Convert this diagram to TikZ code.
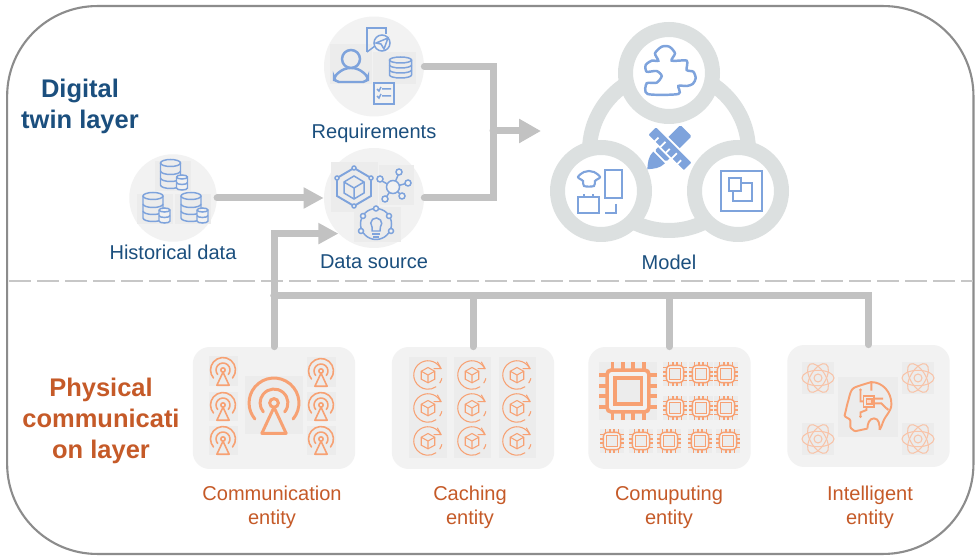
\documentclass[tikz,border=0pt]{standalone}
\usepackage{fontspec}
\setmainfont{Liberation Sans}
\usetikzlibrary{arrows.meta, positioning}
\definecolor{twinblue}{HTML}{1B4F7E}
\definecolor{physorange}{HTML}{C55A28}
\definecolor{iconblue}{HTML}{7EA3DC}
\definecolor{iconorange}{HTML}{F7A173}
\definecolor{paleorange}{HTML}{F8C4A9}
\definecolor{flowgray}{HTML}{C2C2C2}
\definecolor{ringgray}{HTML}{DCE0E0}
\definecolor{softgray}{HTML}{F2F2F2}
\definecolor{iconback}{HTML}{ECECEC}
\tikzset{
    x=0.02cm, y=0.02cm,
    softcircle/.style={circle, fill=softgray, inner sep=0pt},
    ringcircle/.style={circle, draw=ringgray, line width=0.3cm, fill=white, inner sep=0pt, minimum size=1.74cm},
    panel/.style={rectangle, rounded corners=0.34cm, fill=softgray, inner sep=0pt, minimum width=3.25cm, minimum height=2.44cm},
    twinlabel/.style={text=twinblue, font=\fontsize{11.4}{13.6}\selectfont},
    physlabel/.style={text=physorange, align=center, font=\fontsize{11.4}{13.6}\selectfont},
    layerlabel/.style={align=center, font=\bfseries\fontsize{14.5}{17.6}\selectfont},
    flow/.style={draw=flowgray, line width=0.14cm, line cap=round},
    flowarrow/.style={flow, -{Triangle[length=0.4cm, width=0.4cm]}},
    blueline/.style={draw=iconblue, line width=0.85pt},
    % orange icons, drawn in a box from -1 to 1
    tower/.pic={
        \fill[iconback] (-1,-1) rectangle (1,1);
        \draw[iconorange] (0,0.07) circle (0.15);
        \draw[iconorange, line join=round] (0,-0.08) -- (-0.42,-0.98) -- (0.42,-0.98) -- cycle;
        \draw[iconorange, line cap=round] (-40:0.48) ++(0,0.07) arc[start angle=-40, end angle=220, radius=0.48];
        \draw[iconorange, line cap=round] (-40:0.86) ++(0,0.07) arc[start angle=-40, end angle=220, radius=0.86];
    },
    cuberound/.pic={
        \draw[iconorange] (0,0.5) -- (0.45,0.25) -- (0.45,-0.28) -- (0,-0.52) -- (-0.45,-0.28) -- (-0.45,0.25) -- cycle;
        \draw[iconorange] (-0.45,0.25) -- (0,0) -- (0.45,0.25) (0,0) -- (0,-0.52);
        \draw[iconorange] (25:0.95) arc[start angle=25, end angle=305, radius=0.95];
        \draw[iconorange, line join=round] (0.62,0.88) -- (0.88,0.42) -- (0.38,0.42);
        \draw[iconorange, dashed] (-35:0.95) arc[start angle=-35, end angle=-8, radius=0.95];
    },
    chip/.pic={
        \fill[iconback] (-1,-1) rectangle (1,1);
        \foreach \pin in {-0.54,-0.18,0.18,0.54} {
            \draw[iconorange] (\pin,-1) -- (\pin,1);
            \draw[iconorange] (-1,\pin) -- (1,\pin);
        }
        \draw[iconorange, fill=softgray, rounded corners=0.08cm] (-0.72,-0.72) rectangle (0.72,0.72);
        \draw[iconorange, fill=iconback] (-0.46,-0.46) rectangle (0.46,0.46);
    },
    atom/.pic={
        \fill[iconback] (-1,-1) rectangle (1,1);
        \draw[paleorange] (0,0) ellipse (1 and 0.48);
        \draw[paleorange, rotate=60] (0,0) ellipse (1 and 0.48);
        \draw[paleorange, rotate=120] (0,0) ellipse (1 and 0.48);
        \draw[paleorange] (0,0) circle (0.25);
    },
    brainhead/.pic={
        \fill[iconback] (-1,-1) rectangle (1,1);
        \draw[iconorange, rounded corners=0.02cm] plot[smooth, tension=0.4] coordinates {(0.11,0.83) (-0.5,0.61) (-0.67,0.17) (-0.78,-0.31)} -- (-0.59,-0.42) -- (-0.59,-0.69) -- (-0.44,-0.81) -- (-0.02,-0.72);
        \draw[iconorange] (0.39,-0.76) to[out=60, in=250] (0.5,-0.5) to[out=70, in=270] (0.78,0.1) to[out=90, in=0] (0.11,0.83) -- (0.11,0.55);
        \draw[iconorange] (-0.02,-0.72) to[out=90, in=180] (0.2,-0.38) to[out=0, in=90] (0.39,-0.76);
        \draw[iconorange, fill=iconback] (-0.15,0.01) rectangle (0.21,0.37);
        \draw[iconorange, fill=iconorange!40] (-0.05,0.1) rectangle (0.12,0.28);
        \draw[iconorange] (0.21,0.28) -- (0.5,0.28) (0.21,0.12) -- (0.45,0.12) -- (0.62,-0.05) (-0.15,0.19) -- (-0.25,0.19) -- (-0.25,0.55) (-0.05,0.01) -- (-0.05,-0.1) -- (-0.25,-0.18) -- (-0.25,-0.3);
        \fill[iconorange] (0.65,-0.07) circle (0.05) (-0.25,0.57) circle (0.05) (-0.25,-0.32) circle (0.05);
    },
    % blue icons, drawn directly in pixels
    dbgroup/.pic={
        \fill[iconback] (-16,-15) rectangle (20,15);
        \draw[blueline] (0,13) ellipse (10 and 3.5);
        \draw[blueline] (-10,13) -- (-10,-9) arc[start angle=180, end angle=360, x radius=10, y radius=3.5] -- (10,13);
        \draw[blueline] (-10,5) arc[start angle=180, end angle=360, x radius=10, y radius=3.5] (-10,-2) arc[start angle=180, end angle=360, x radius=10, y radius=3.5];
        \draw[blueline, fill=softgray] (6,-1) -- (6,-12) arc[start angle=180, end angle=360, x radius=5.5, y radius=2] -- (17,-1) arc[start angle=0, end angle=180, x radius=5.5, y radius=2];
        \draw[blueline] (6,-1) arc[start angle=180, end angle=360, x radius=5.5, y radius=2] (6,-6.5) arc[start angle=180, end angle=360, x radius=5.5, y radius=2];
    },
    diskstack/.pic={
        \draw[blueline] (0,8) ellipse (11 and 3);
        \draw[blueline] (-11,8) -- (-11,-7) arc[start angle=180, end angle=360, x radius=11, y radius=3] -- (11,8);
        \draw[blueline] (-11,3) arc[start angle=180, end angle=360, x radius=11, y radius=3] (-11,-2) arc[start angle=180, end angle=360, x radius=11, y radius=3];
    },
}
\begin{document}
\begin{tikzpicture}
    \useasboundingbox (0,0) rectangle (980,-560);
    \fill[white] (0,0) rectangle (980,-560);
    % Outer frame and layer border
    \node[draw=black!45, line width=1.2pt, rounded corners=1.8cm, inner sep=0pt, minimum width=19.33cm, minimum height=10.96cm] (frame) at (490.3,-280) {};
    \node[inner sep=0pt] (border-left) at (8,-281) {};
    \node[inner sep=0pt] (border-right) at (974,-281) {};
    \draw[draw=black!22, line width=0.7pt, dash pattern=on 0.44cm off 0.12cm] (border-left) -- (border-right);
    % Define nodes for the digital twin layer
    \node[softcircle, minimum size=2cm] (requirements) at (374,-66.5) {};
    \node[softcircle, minimum size=2cm] (datasource) at (374,-198) {};
    \node[softcircle, minimum size=1.75cm] (history) at (173,-198) {};
    \coordinate (merge) at (493,-131);
    \coordinate (model-in) at (541,-131);
    % Define nodes for the physical layer
    \node[panel] (comm) at (274,-408) {};
    \node[panel] (cache) at (473,-408) {};
    \node[panel] (compute) at (669.5,-408) {};
    \node[panel] (intel) at (868.5,-406) {};
    \coordinate (bus) at (274,-296);
    % Connectors
    \draw[flowarrow] (history) -- (datasource);
    \draw[flowarrow] (comm.north) |- (datasource.225);
    \draw[flow] (requirements.east) -| (merge);
    \draw[flow] (datasource.east) -| (merge);
    \draw[flowarrow, -{Triangle[length=0.44cm, width=0.46cm]}] (merge) -- (model-in);
    \draw[flow] (intel.north) |- (bus);
    \draw[flow] (cache.north) |- (bus);
    \draw[flow] (compute.north) |- (bus);
    % Model rings
    \node[circle, draw=ringgray, line width=0.3cm, inner sep=0pt, minimum size=3.18cm] (model-ring) at (669,-151) {};
    \node[ringcircle] (model-top) at (669,-73) {};
    \node[ringcircle] (model-left) at (601,-191) {};
    \node[ringcircle] (model-right) at (738,-191) {};
    % Labels
    \node[twinlabel] (requirements-label) at (374,-133) {Requirements};
    \node[twinlabel] (datasource-label) at (374,-262) {Data source};
    \node[twinlabel] (history-label) at (173,-252) {Historical data};
    \node[twinlabel] (model-label) at (669,-262) {Model};
    \node[layerlabel, text=twinblue] (twin-label) at (80,-106) {Digital\\twin layer};
    \node[layerlabel, text=physorange] (phys-label) at (101,-421) {Physical\\communicati\\on layer};
    \node[physlabel] (comm-label) at (272,-507) {Communication\\entity};
    \node[physlabel] (cache-label) at (470,-507) {Caching\\entity};
    \node[physlabel] (compute-label) at (669,-507) {Comuputing\\entity};
    \node[physlabel] (intel-label) at (870,-507) {Intelligent\\entity};
    % Icons of history
    \pic at (170.5,-176) {dbgroup};
    \pic at (153,-209) {dbgroup};
    \pic at (191,-209) {dbgroup};
    % Icons of requirements
    \fill[iconback] (330,-44) rectangle (372,-84);
    \fill[iconback] (373,-52) rectangle (416,-84);
    \draw[blueline, line width=1.4pt] (351,-59) circle (9);
    \draw[blueline, line width=1.4pt, rounded corners=0.1cm] (334,-82) -- (334,-76) -- (345,-68) -- (357,-68) -- (368,-76) -- (368,-82) -- cycle;
    \draw[blueline] (367,-52) -- (367,-28) -- (386,-28) -- (386,-34);
    \draw[blueline] (367,-52) -- (375,-46);
    \draw[blueline] (382,-43) circle (8);
    \draw[blueline] (376,-43) -- (388,-38) -- (384,-49) -- (381,-44) -- cycle;
    \pic at (400.5,-68) {diskstack};
    \draw[blueline] (374,-83) rectangle (394,-104);
    \draw[blueline] (382,-89) -- (391,-89) (382,-96) -- (391,-96) (377,-89) -- (379,-91) -- (381,-87) (377,-96) -- (379,-98) -- (381,-94);
    % Icons of data source
    \fill[iconback] (331,-162) rectangle (378,-212);
    \fill[iconback] (379,-165) rectangle (414,-205);
    \fill[iconback] (354,-207) rectangle (401,-242);
    \draw[blueline, line width=1.1pt] (354,-168) -- (371,-178) -- (371,-196) -- (354,-206) -- (337,-196) -- (337,-178) -- cycle;
    \draw[blueline] (354,-176) -- (364,-182) -- (364,-193) -- (354,-199) -- (344,-193) -- (344,-182) -- cycle;
    \draw[blueline] (344,-182) -- (354,-188) -- (364,-182) (354,-188) -- (354,-199);
    \draw[blueline, fill=softgray] (354,-168) circle (2) (337,-178) circle (2) (371,-178) circle (2) (354,-206) circle (2);
    \draw[blueline] (393,-187) -- (399,-173) (393,-187) -- (380,-180) (393,-187) -- (408,-183) (393,-187) -- (385,-199) (393,-187) -- (402,-196);
    \draw[blueline, fill=softgray] (393,-187) circle (6.5);
    \draw[blueline, fill=softgray] (399,-172) circle (3) (380,-179) circle (3) (408,-183) circle (3) (385,-199) circle (3) (402,-196) circle (3);
    \draw[blueline] (376,-224) circle (15.5);
    \draw[blueline, fill=softgray] (376,-208.5) circle (2.5) (363,-216) circle (2.5) (389,-216) circle (2.5) (361,-231) circle (2.5) (391,-231) circle (2.5);
    \draw[blueline] (372,-227) arc[start angle=220, end angle=-40, radius=5.5] -- (380,-231) -- (372,-231) -- cycle;
    \draw[blueline] (372,-234) -- (380,-234) (373,-237) -- (379,-237);
    % Icons of model
    \draw[blueline, line width=1.4pt] plot[smooth cycle, tension=0.45] coordinates {(647.5,-94) (646.7,-83.3) (656.7,-82.7) (661.7,-76) (656.7,-71) (646.7,-71.7) (645.7,-65) (651.7,-60.7) (658.3,-60.7) (655,-53.3) (661.7,-46.7) (669.3,-46.7) (675,-53.3) (671.7,-60.7) (686.7,-60.7) (686.7,-70) (693.3,-71.7) (695.7,-78.3) (692.7,-84) (686.7,-86) (678.3,-86) (678.3,-94)};
    \draw[blueline, line width=1.2pt] plot[smooth cycle, tension=0.6] coordinates {(578,-177) (584,-172) (589,-171) (594,-172) (600,-177) (595,-181) (594,-186) (584,-186) (583,-181)};
    \draw[blueline, line width=1.2pt] (605,-170) rectangle (622,-198);
    \draw[blueline, line width=1.2pt] (578,-197) rectangle (599,-213);
    \draw[blueline, line width=1.2pt] (584,-197) -- (584,-194) (593,-197) -- (593,-194);
    \draw[blueline, line width=1.2pt] (616,-204) -- (616,-213) -- (605,-213);
    \draw[blueline, line width=1pt] (721,-171) rectangle (762,-211);
    \draw[blueline, line width=1pt] (729,-178) rectangle (741,-191);
    \draw[blueline, line width=1pt] (741,-183) -- (752,-183) -- (752,-201) -- (733,-201) -- (733,-191);
    % Pencil and ruler, from the pencil tip
    \fill[iconblue, rotate around={45:(647.3,-169.3)}] (647.3,-169.3) to[out=40, in=180] (664,-161) -- (664,-177.5) to[out=180, in=-40] cycle;
    \fill[iconblue, rotate around={45:(647.3,-169.3)}, rounded corners=0.03cm] (666,-161.3) rectangle (702,-177.3);
    \fill[iconblue, draw=white, line width=1pt, rotate around={-45:(670,-148.7)}, rounded corners=0.03cm] (644,-155) rectangle (696,-142.4);
    \draw[white, line width=1pt, rotate around={-45:(670,-148.7)}] (654,-155) -- (654,-149) (662,-155) -- (662,-147) (670,-155) -- (670,-149) (678,-155) -- (678,-147) (686,-155) -- (686,-149);
    % Icons of communication entity
    \pic[scale=29, line width=1.7pt] at (274,-405) {tower};
    \pic[scale=14.5, line width=0.9pt] at (223,-371) {tower};
    \pic[scale=14.5, line width=0.9pt] at (223,-406) {tower};
    \pic[scale=14.5, line width=0.9pt] at (223,-440) {tower};
    \pic[scale=14.5, line width=0.9pt] at (321,-372) {tower};
    \pic[scale=14.5, line width=0.9pt] at (321,-406) {tower};
    \pic[scale=14.5, line width=0.9pt] at (321,-440) {tower};
    % Icons of caching entity
    \fill[iconback] (409,-357) rectangle (447,-458);
    \fill[iconback] (454,-357) rectangle (491,-458);
    \fill[iconback] (499,-357) rectangle (536,-458);
    \foreach \col in {428,472,517} {
        \foreach \row in {-375,-408,-441} {
            \pic[scale=15, line width=0.6pt] at (\col,\row) {cuberound};
        }
    }
    % Icons of computing entity
    \pic[scale=29, line width=2.1pt] at (628,-391) {chip};
    \pic[scale=12, line width=0.8pt] at (675,-374) {chip};
    \pic[scale=12, line width=0.8pt] at (701,-374) {chip};
    \pic[scale=12, line width=0.8pt] at (726,-374) {chip};
    \pic[scale=12, line width=0.8pt] at (675,-408) {chip};
    \pic[scale=12, line width=0.8pt] at (701,-408) {chip};
    \pic[scale=12, line width=0.8pt] at (726,-408) {chip};
    \pic[scale=12, line width=0.8pt] at (612,-441) {chip};
    \pic[scale=12, line width=0.8pt] at (641,-441) {chip};
    \pic[scale=12, line width=0.8pt] at (669,-441) {chip};
    \pic[scale=12, line width=0.8pt] at (700,-441) {chip};
    \pic[scale=12, line width=0.8pt] at (728,-441) {chip};
    % Icons of intelligent entity
    \pic[scale=30, line width=1.1pt] at (868,-407) {brainhead};
    \pic[scale=16, line width=0.6pt] at (818,-378) {atom};
    \pic[scale=16, line width=0.6pt] at (918,-378) {atom};
    \pic[scale=16, line width=0.6pt] at (818,-439) {atom};
    \pic[scale=16, line width=0.6pt] at (918,-439) {atom};
\end{tikzpicture}
\end{document}
